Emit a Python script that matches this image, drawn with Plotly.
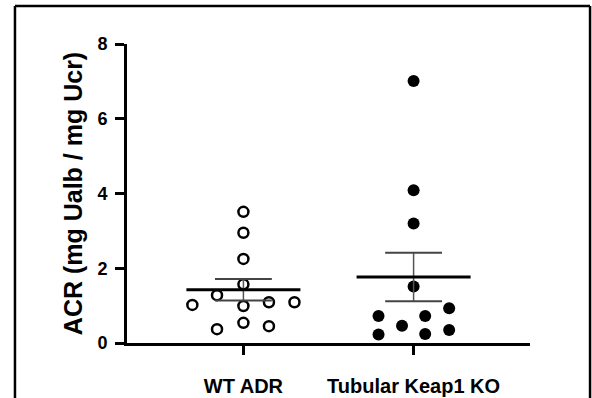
import numpy as np
import plotly.graph_objects as go

categories = ["WT ADR", "Tubular Keap1 KO"]
wt_values = [3.51, 2.95, 2.25, 1.57, 1.28, 1.02, 0.99, 1.09, 1.09, 0.37, 0.54, 0.45]
wt_offsets = [0, 0, 0, 0, -0.155, -0.30, 0, 0.15, 0.30, -0.155, 0, 0.15]
ko_values = [7.01, 4.09, 3.20, 1.51, 0.72, 0.72, 0.93, 0.46, 0.23, 0.24, 0.35]
ko_offsets = [0, 0, 0, 0, -0.206, 0.068, 0.209, -0.068, -0.206, 0.068, 0.209]
y_ticks = [0, 2, 4, 6, 8]
y_title = "ACR (mg Ualb / mg Ucr)"

FONT = "Arial, Liberation Sans, Helvetica, sans-serif"

fig = go.Figure()

groups = [
    (0, wt_values, wt_offsets, dict(symbol="circle-open", size=10, color="black", line=dict(width=2.5, color="black"))),
    (1, ko_values, ko_offsets, dict(symbol="circle", size=12, color="black", line=dict(width=0))),
]

for idx, vals, offs, marker in groups:
    xs = [idx + o for o in offs]
    fig.add_trace(go.Scatter(x=xs, y=vals, mode="markers", marker=marker,
                             showlegend=False, hoverinfo="y"))

for idx, vals, offs, marker in groups:
    arr = np.array(vals)
    mean = arr.mean()
    sem = arr.std(ddof=1) / np.sqrt(len(arr))
    fig.add_trace(go.Scatter(x=[idx, idx], y=[mean - sem, mean + sem], mode="lines",
                             line=dict(color="#555555", width=1.5), showlegend=False, hoverinfo="skip"))
    for yv in (mean - sem, mean + sem):
        fig.add_trace(go.Scatter(x=[idx - 0.167, idx + 0.167], y=[yv, yv], mode="lines",
                                 line=dict(color="#444444", width=2), showlegend=False, hoverinfo="skip"))
    fig.add_trace(go.Scatter(x=[idx - 0.335, idx + 0.335], y=[mean, mean], mode="lines",
                             line=dict(color="black", width=3), showlegend=False, hoverinfo="skip"))

frame = dict(xref="paper", yref="paper", line=dict(color="black", width=2.5))
fig.update_layout(
    width=592, height=398,
    margin=dict(l=127, r=62, t=44, b=55),
    paper_bgcolor="white", plot_bgcolor="white",
    font=dict(family=FONT, color="black"),
    xaxis=dict(
        range=[-0.684, 1.684],
        tickmode="array", tickvals=[0, 1], ticktext=categories,
        showgrid=False, zeroline=False, automargin=False,
        showline=True, linecolor="black", linewidth=3,
        ticks="outside", ticklen=9, tickwidth=2.5, tickcolor="black",
        tickfont=dict(family=FONT, size=20, weight="bold", color="black"),
        ticklabelstandoff=14,
    ),
    yaxis=dict(
        range=[0, 8],
        tickmode="array", tickvals=y_ticks, ticktext=[str(t) for t in y_ticks],
        showgrid=False, zeroline=False, automargin=False,
        showline=True, linecolor="black", linewidth=3,
        ticks="outside", ticklen=9, tickwidth=2.5, tickcolor="black",
        tickfont=dict(family=FONT, size=18, weight="bold", color="black"),
        ticklabelstandoff=4,
        title=dict(text=y_title, font=dict(family=FONT, size=25, weight="bold", color="black"),
                   standoff=8),
    ),
    shapes=[
        dict(type="line", x0=-0.278, x1=-0.278, y0=-0.3, y1=1.127, **frame),
        dict(type="line", x0=-0.278, x1=1.149, y0=1.127, y1=1.127, **frame),
        dict(type="line", x0=1.149, x1=1.149, y0=-0.3, y1=1.127, **frame),
    ],
)

fig.write_html("out.html", config={"displayModeBar": False},
               post_script="document.body.style.margin='0';")
